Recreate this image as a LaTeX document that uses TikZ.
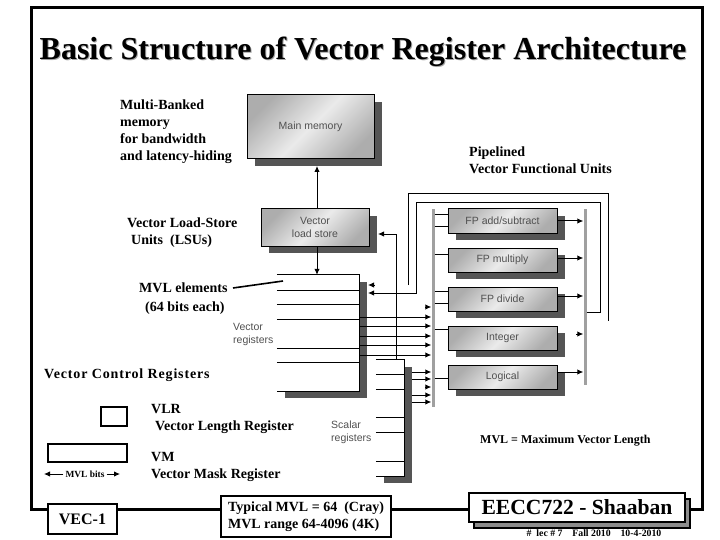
\documentclass[tikz,border=0pt]{standalone}
\usepackage{fontspec}
\setmainfont{Liberation Serif}
\newfontfamily\unitfont{Liberation Sans}
\usetikzlibrary{arrows.meta,positioning,shadows}

\definecolor{shadowgray}{HTML}{555555}
\definecolor{busgray}{HTML}{A0A0A0}
\definecolor{unitgray}{HTML}{505050}

\tikzset{
    unitshadow/.style={drop shadow={shadow xshift=8pt, shadow yshift=-7pt, fill=shadowgray, opacity=1}},
    unitbox/.style={draw, line width=1pt, inner sep=0pt, top color=black!32, bottom color=black!32, middle color=black!8, shading angle=45, unitshadow, font=\unitfont\fontsize{10.5}{13}\selectfont, text=unitgray, align=center},
    fubox/.style={unitbox, minimum width=109, minimum height=24},
    regblock/.style={fill=white, inner sep=0pt, unitshadow},
    regline/.style={line width=1pt},
    regarrow/.style={line width=1pt, -{Latex[length=6pt,width=5.5pt]}},
    busbar/.style={fill=busgray, inner sep=0pt, minimum width=3},
    lab/.style={anchor=west, inner sep=0pt, align=left, font=\bfseries\fontsize{14}{17}\selectfont},
    reglab/.style={anchor=west, inner sep=0pt, align=left, text=unitgray, font=\unitfont\fontsize{10.5}{13}\selectfont},
    footbox/.style={draw, line width=2pt, fill=white, inner sep=0pt, align=left}
}

\begin{document}
\begin{tikzpicture}[x=1pt, y=-1pt]
    \useasboundingbox (0,0) rectangle (720,540);

    \node[draw, line width=3pt, minimum width=671, minimum height=501] (frame) at (366.5,258.5) {};
    \node[text=black!35, font=\bfseries\fontsize{32}{36}\selectfont] (titleshade) at (364,53) {Basic Structure of Vector Register Architecture};
    \node[font=\bfseries\fontsize{32}{36}\selectfont] (title) at (363,52) {Basic Structure of Vector Register Architecture};

    % memory and load-store
    \node[unitbox, minimum width=127, minimum height=64] (mem) at (310.5,127) {Main memory};
    \node[unitbox, minimum width=108, minimum height=37] (lsu) at (315,227.5) {Vector\\load store};
    \coordinate (memtip) at (317,166);

    % registers
    \node[regblock, minimum width=82, minimum height=116] (vreg) at (318,333) {};
    \draw[regline] (vreg.north west) -- (vreg.north east) -- (vreg.south east) -- (vreg.south west);
    \foreach \y in {290,304,319,348,362}
        \draw[regline] (vreg.west |- 0,\y) -- (vreg.east |- 0,\y);
    \node[regblock, minimum width=28, minimum height=116] (sreg) at (390,418) {};
    \draw[regline] (sreg.north west) -- (sreg.north east) -- (sreg.south east) -- (sreg.south west);
    \foreach \y in {374,389,417,432,461}
        \draw[regline] (sreg.west |- 0,\y) -- (sreg.east |- 0,\y);

    % functional units
    \node[fubox] (fpadd) at (502.5,221) {FP add/subtract};
    \node[fubox, below=14pt of fpadd] (fpmul) {FP multiply};
    \node[fubox, below=14pt of fpmul] (fpdiv) {FP divide};
    \node[fubox, below=14pt of fpdiv] (intg) {Integer};
    \node[fubox, below=14pt of intg] (logic) {Logical};
    \node[busbar, minimum height=198] (bus) at (433,308) {};
    \node[busbar, minimum height=176] (busout) at (585,297) {};

    \draw[regarrow] (memtip |- lsu.north) -- (memtip);
    \draw[regarrow] (memtip |- lsu.south) -- (memtip |- vreg.north);

    \foreach \y in {317,326,336,345,355}
        \draw[regarrow] (vreg.east |- 0,\y) -- (bus.west |- 0,\y);
    \foreach \y in {372,379,395,402}
        \draw[regarrow] ([xshift=8pt]sreg.east |- 0,\y) -- (bus.west |- 0,\y);
    \foreach \y in {307,387}
        \draw[regarrow] ([xshift=-6pt]bus.west |- 0,\y) -- (bus.west |- 0,\y);

    \foreach \y in {215,227}
        \draw[regline] (bus.east |- 0,\y) -- (fpadd.west |- 0,\y);
    \draw[regline] (bus.east |- 0,254) -- (fpmul.west |- 0,254);
    \foreach \y in {291,303}
        \draw[regline] (bus.east |- 0,\y) -- (fpdiv.west |- 0,\y);
    \draw[regline] (bus.east |- 0,329) -- (intg.west |- 0,329);
    \draw[regline] (bus.east |- 0,378) -- (logic.west |- 0,378);

    \draw[regarrow] (fpadd.east |- 0,221) -- (busout.west |- 0,221);
    \draw[regarrow] (fpmul.east |- 0,258) -- (busout.west |- 0,258);
    \draw[regarrow] (fpdiv.east |- 0,296) -- (busout.west |- 0,296);
    \draw[regarrow] ([xshift=-7pt]busout.west |- 0,334) -- (busout.west |- 0,334);
    \draw[regarrow] (logic.east |- 0,372) -- (busout.west |- 0,372);

    % results back to the registers
    \coordinate (sregtip) at (378,234);
    \coordinate (outend) at (608,321);
    \coordinate (outstart) at (408,285);
    \coordinate (vregtip) at (368,293);
    \coordinate (vregtop) at (368,285);
    \draw[regarrow] (sreg.north -| 396,0) |- (sregtip);
    \draw[regline] (outstart) -- (408,194) -- (608,194) -- (outend);
    \draw[regarrow] (busout.east |- 0,312) -- (600,312) -- (600,203) -- (416,203) -- (416,293) -- (vregtip);
    \draw[regarrow] ([xshift=7pt]vregtop) -- (vregtop);

    % labels
    \node[lab] (multilab) at (120,131.5) {Multi-Banked\\memory\\for bandwidth\\and latency-hiding};
    \node[lab] (pipelab) at (469,160) {Pipelined\\Vector Functional Units};
    \node[lab] (lsulab) at (127,232.5) {Vector Load-Store\\\hspace*{4pt}Units\ \ (LSUs)};
    \node[lab, font=\bfseries\fontsize{14}{19}\selectfont] (mvllab) at (139,298.5) {MVL elements\\\hspace*{6pt}(64 bits each)};
    \draw[line width=1.6pt] (233,288) coordinate (mvlfrom) -- (283,281);
    \node[reglab] (vreglab) at (233,334.5) {Vector\\registers};
    \node[reglab] (sreglab) at (331,432.5) {Scalar\\registers};
    \node[lab, font=\bfseries\addfontfeature{LetterSpace=6}\fontsize{14}{17}\selectfont] (ctrllab) at (44,375) {Vector Control Registers};

    \node[draw, line width=1.5pt, minimum width=26, minimum height=19] (vlr) at (114,416.5) {};
    \node[draw, line width=1.5pt, minimum width=79, minimum height=18] (vm) at (87.5,453) {};
    \node[lab] (vlrlab) at (151,418.5) {VLR\\\hspace*{4pt}Vector Length Register};
    \node[lab] (vmlab) at (151,466.5) {VM\\Vector Mask Register};
    \node[inner sep=0pt, font=\bfseries\fontsize{9.4}{11}\selectfont] (mvlbits) at (85,474) {MVL bits};
    \coordinate (bitsleft) at (44,474);
    \coordinate (bitsright) at (120,474);
    \draw[regarrow] (mvlbits.west) ++(-2,0) -- (bitsleft);
    \draw[regarrow] (mvlbits.east) ++(2,0) -- (bitsright);
    \node[lab, font=\bfseries\fontsize{12}{14}\selectfont] (mvllen) at (480,441) {MVL = Maximum Vector Length};

    % bottom strip
    \node[footbox, minimum width=69, minimum height=30, align=center, font=\bfseries\fontsize{16}{18}\selectfont] (vec) at (82.5,519) {VEC-1};
    \node[footbox, minimum width=170, minimum height=41, font=\bfseries\fontsize{14}{17}\selectfont] (typical) at (306,516.5) {Typical MVL = 64\ \ (Cray)\\MVL range 64-4096 (4K)};
    \node[footbox, minimum width=216, minimum height=29, draw, drop shadow={shadow xshift=5pt, shadow yshift=-6pt, fill=black!45, draw=black, opacity=1}, align=center, font=\bfseries\fontsize{21.6}{26}\selectfont] (eecc) at (577,507.5) {EECC722 - Shaaban};
    \node[inner sep=0pt, font=\bfseries\fontsize{9.8}{11}\selectfont] (footlab) at (594,533) {\#\ \ lec \# 7\quad Fall 2010\quad 10-4-2010};
\end{tikzpicture}
\end{document}
